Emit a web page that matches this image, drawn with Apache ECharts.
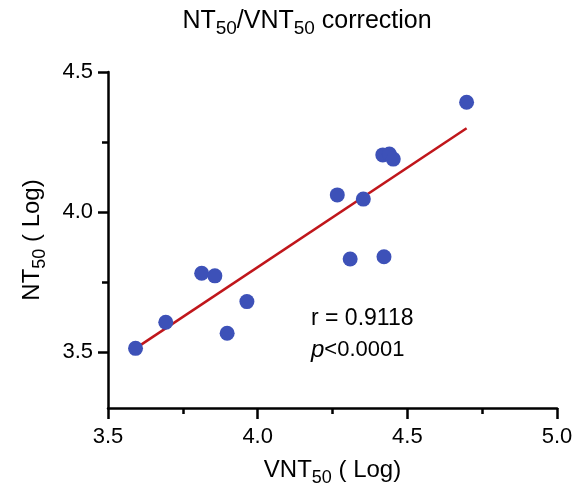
<!DOCTYPE html>
<html>
<head>
<meta charset="UTF-8">
<title></title>
<script src="https://cdn.jsdelivr.net/npm/echarts@6.0.0/dist/echarts.min.js"></script>
<style>
  html, body { margin: 0; padding: 0; background: #fff; }
</style>
</head>
<body>
<div id="main" style="width: 576px; height: 497px;"></div>
<script>
// VNT50 (x) vs NT50 (y), both log
var vntLog = [3.592, 3.693, 3.813, 3.857, 3.898, 3.964, 4.266, 4.309, 4.353, 4.418, 4.422, 4.440, 4.453, 4.698];
var ntLog  = [3.513, 3.606, 3.781, 3.772, 3.567, 3.680, 4.061, 3.832, 4.046, 4.204, 3.840, 4.207, 4.189, 4.392];
// regression line ends
var fitX = [3.592, 4.698];
var fitY = [3.513, 4.299];
var yTicks = [3.5, 4.0, 4.5];
var yMinorTicks = [3.75, 4.25];

var font = "'Liberation Sans', Arial, sans-serif";
var pts = vntLog.map(function (v, i) { return [v, ntLog[i]]; });
var fit = fitX.map(function (v, i) { return [v, fitY[i]]; });

var subRich = {
  a: { fontSize: 24, lineHeight: 28, fontWeight: 'normal', fontFamily: font, color: '#000' },
  s: { fontSize: 18, lineHeight: 20, fontWeight: 'normal', padding: [16, 0, 0, 0], fontFamily: font, color: '#000' }
};
var titleRich = {
  a: { fontSize: 25, lineHeight: 28, fontWeight: 'normal', fontFamily: font, color: '#000' },
  s: { fontSize: 19, lineHeight: 20, fontWeight: 'normal', padding: [16, 0, 0, 0], fontFamily: font, color: '#000' }
};

var myChart = echarts.init(document.getElementById('main'));
var option = {
  animation: false,
  title: {
    text: '{a|NT}{s|50}{a|/VNT}{s|50}{a| correction}',
    left: 302,
    top: 2,
    textAlign: 'center',
    textStyle: { fontWeight: 'normal', rich: titleRich }
  },
  grid: { left: 108, right: 19, top: 72, bottom: 89 },
  xAxis: {
    type: 'value',
    min: 3.5,
    max: 5.0,
    interval: 0.5,
    name: '{a|VNT}{s|50}{a| ( Log)}',
    nameLocation: 'middle',
    nameGap: 40,
    nameTextStyle: { rich: subRich },
    axisLine: { onZero: false, lineStyle: { color: '#000', width: 2.5 } },
    axisTick: { length: 11, lineStyle: { color: '#000', width: 2.5 } },
    minorTick: { show: true, splitNumber: 2, length: 6, lineStyle: { color: '#000', width: 2.5 } },
    axisLabel: {
      margin: 18, fontSize: 22, color: '#000', fontFamily: font,
      formatter: function (v) { return v.toFixed(1); }
    },
    splitLine: { show: false }
  },
  yAxis: [{
    type: 'value',
    min: 3.3,
    max: 4.5,
    name: '{a|NT}{s|50}{a| ( Log)}',
    nameLocation: 'middle',
    nameRotate: 90,
    nameGap: 62,
    nameTextStyle: { rich: subRich },
    axisLine: { onZero: false, lineStyle: { color: '#000', width: 2.5 } },
    axisTick: { length: 10, customValues: yTicks, lineStyle: { color: '#000', width: 2.5 } },
    axisLabel: {
      margin: 15, fontSize: 22, color: '#000', fontFamily: font, customValues: yTicks,
      formatter: function (v) { return v.toFixed(1); }
    },
    splitLine: { show: false }
  }, {
    type: 'value',
    min: 3.3,
    max: 4.5,
    position: 'left',
    axisLine: { show: false },
    axisTick: { length: 6, customValues: yMinorTicks, lineStyle: { color: '#000', width: 2.5 } },
    axisLabel: { show: false },
    splitLine: { show: false }
  }],
  graphic: [{
    type: 'text',
    left: 311,
    top: 307,
    style: { text: 'r = 0.9118', fontSize: 23, fontFamily: font, fill: '#000' }
  }, {
    type: 'text',
    left: 311,
    top: 338,
    style: {
      text: '{i|p}{n|<0.0001}',
      rich: {
        i: { fontSize: 24, fontStyle: 'italic', fontFamily: font, fill: '#000' },
        n: { fontSize: 22, fontFamily: font, fill: '#000' }
      }
    }
  }],
  series: [{
    type: 'line',
    data: fit,
    symbol: 'none',
    lineStyle: { color: '#C0161B', width: 2.5 },
    z: 2
  }, {
    type: 'scatter',
    data: pts,
    symbolSize: 15,
    itemStyle: { color: '#3D51B8', opacity: 1 },
    z: 3
  }]
};
myChart.setOption(option);
</script>
</body>
</html>
